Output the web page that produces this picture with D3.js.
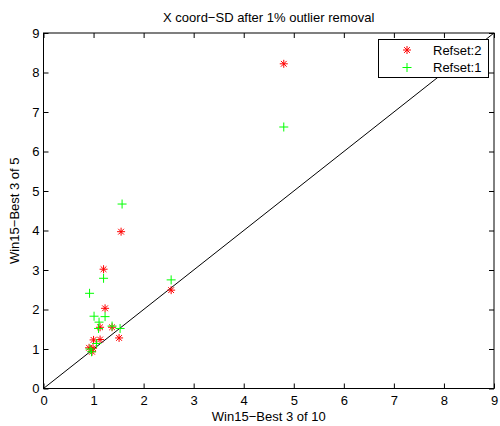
<!DOCTYPE html>
<html>
<head>
<meta charset="utf-8">
<script src="https://cdn.jsdelivr.net/npm/d3@7"></script>
<style>
  html, body { margin: 0; padding: 0; background: #fff; }
  svg text { font-family: "Liberation Sans", Arial, Helvetica, sans-serif; fill: #000; }
</style>
</head>
<body>
<svg id="chart" width="500" height="426"></svg>
<script>
// Refset:2 (red stars) — x = Best 3 of 10, y = Best 3 of 5
const refset2X = [0.91, 0.97, 1.00, 1.13, 1.13, 1.37, 1.51, 1.23, 1.20, 1.55, 2.55, 4.80, 0.99];
const refset2Y = [1.03, 0.93, 1.23, 1.24, 1.55, 1.55, 1.28, 2.03, 3.02, 3.97, 2.49, 8.22, 1.02];

// Refset:1 (green pluses)
const refset1X = [0.96, 1.06, 1.01, 1.23, 1.11, 1.10, 1.37, 1.53, 1.20, 0.92, 1.57, 2.55, 4.80, 0.93];
const refset1Y = [0.93, 1.14, 1.83, 1.82, 1.68, 1.52, 1.58, 1.52, 2.79, 2.41, 4.67, 2.75, 6.62, 1.00];

const xTicks = [0, 1, 2, 3, 4, 5, 6, 7, 8, 9];
const yTicks = [0, 1, 2, 3, 4, 5, 6, 7, 8, 9];
const seriesNames = ["Refset:2", "Refset:1"];
const titleText = "X coord\u2212SD after 1% outlier removal";
const xLabelText = "Win15\u2212Best 3 of 10";
const yLabelText = "Win15\u2212Best 3 of 5";

const svg = d3.select("#chart");
const plotLeft = 43.5, plotRight = 494, plotTop = 33, plotBottom = 388.5;
const fontSize = 13;

const x = d3.scaleLinear().domain([0, 9]).range([plotLeft, plotRight]);
const y = d3.scaleLinear().domain([0, 9]).range([plotBottom, plotTop]);

// Axes with inward ticks (bottom/left labelled, top/right bare)
const tickLen = 5;
const gx = svg.append("g").attr("transform", `translate(0,${plotBottom})`)
  .call(d3.axisBottom(x).tickValues(xTicks).tickSize(-tickLen).tickPadding(7).tickFormat(d3.format("d")));
const gy = svg.append("g").attr("transform", `translate(${plotLeft},0)`)
  .call(d3.axisLeft(y).tickValues(yTicks).tickSize(-tickLen).tickPadding(4).tickFormat(d3.format("d")));
const gt = svg.append("g").attr("transform", `translate(0,${plotTop})`)
  .call(d3.axisTop(x).tickValues(xTicks).tickSize(-tickLen).tickFormat(""));
const gr = svg.append("g").attr("transform", `translate(${plotRight},0)`)
  .call(d3.axisRight(y).tickValues(yTicks).tickSize(-tickLen).tickFormat(""));

[gx, gy, gt, gr].forEach(g => {
  g.select(".domain").remove();
  g.selectAll(".tick line").attr("stroke", "#000").attr("stroke-width", 1);
  g.selectAll(".tick text").attr("font-size", fontSize).attr("fill", "#000")
    .style("font-family", '"Liberation Sans", Arial, sans-serif');
});

// Diagonal reference line y = x
svg.append("line")
  .attr("x1", x(0)).attr("y1", y(0)).attr("x2", x(9)).attr("y2", y(9))
  .attr("stroke", "#000").attr("stroke-width", 1);

// Marker shapes
const starPath = r => {
  const d = r * 0.72;
  return `M${-r},0H${r}M0,${-r}V${r}M${-d},${-d}L${d},${d}M${-d},${d}L${d},${-d}`;
};
const plusPath = r => `M${-r},0H${r}M0,${-r}V${r}`;

const red = "#ff0000", green = "#00ff00";

svg.append("g").selectAll("path")
  .data(d3.zip(refset2X, refset2Y))
  .join("path")
  .attr("transform", d => `translate(${x(d[0])},${y(d[1])})`)
  .attr("d", starPath(4))
  .attr("fill", "none").attr("stroke", red).attr("stroke-width", 1);

svg.append("g").selectAll("path")
  .data(d3.zip(refset1X, refset1Y))
  .join("path")
  .attr("transform", d => `translate(${x(d[0])},${y(d[1])})`)
  .attr("d", plusPath(4.5))
  .attr("fill", "none").attr("stroke", green).attr("stroke-width", 1);

// Axes box
svg.append("rect")
  .attr("x", plotLeft).attr("y", plotTop).attr("width", plotRight - plotLeft).attr("height", plotBottom - plotTop)
  .attr("fill", "none").attr("stroke", "#000").attr("stroke-width", 1);

// Legend
const lg = svg.append("g");
lg.append("rect").attr("x", 378.5).attr("y", 39.5).attr("width", 110).attr("height", 38)
  .attr("fill", "#fff").attr("stroke", "#000").attr("stroke-width", 1);
const legendMarks = [starPath(4), plusPath(4.5)];
const legendColors = [red, green];
seriesNames.forEach((name, i) => {
  const yy = 50 + i * 17.5;
  lg.append("path").attr("transform", `translate(407,${yy})`).attr("d", legendMarks[i])
    .attr("fill", "none").attr("stroke", legendColors[i]).attr("stroke-width", 1);
  lg.append("text").attr("x", 433).attr("y", yy).attr("dy", "0.36em")
    .attr("font-size", fontSize).text(name);
});

// Title and axis labels
svg.append("text").attr("x", (plotLeft + plotRight) / 2).attr("y", 22).attr("text-anchor", "middle")
  .attr("font-size", fontSize).text(titleText);
svg.append("text").attr("x", (plotLeft + plotRight) / 2).attr("y", 421).attr("text-anchor", "middle")
  .attr("font-size", fontSize).text(xLabelText);
svg.append("text").attr("transform", `translate(19,${(plotTop + plotBottom) / 2}) rotate(-90)`)
  .attr("text-anchor", "middle").attr("font-size", fontSize).text(yLabelText);
</script>
</body>
</html>
